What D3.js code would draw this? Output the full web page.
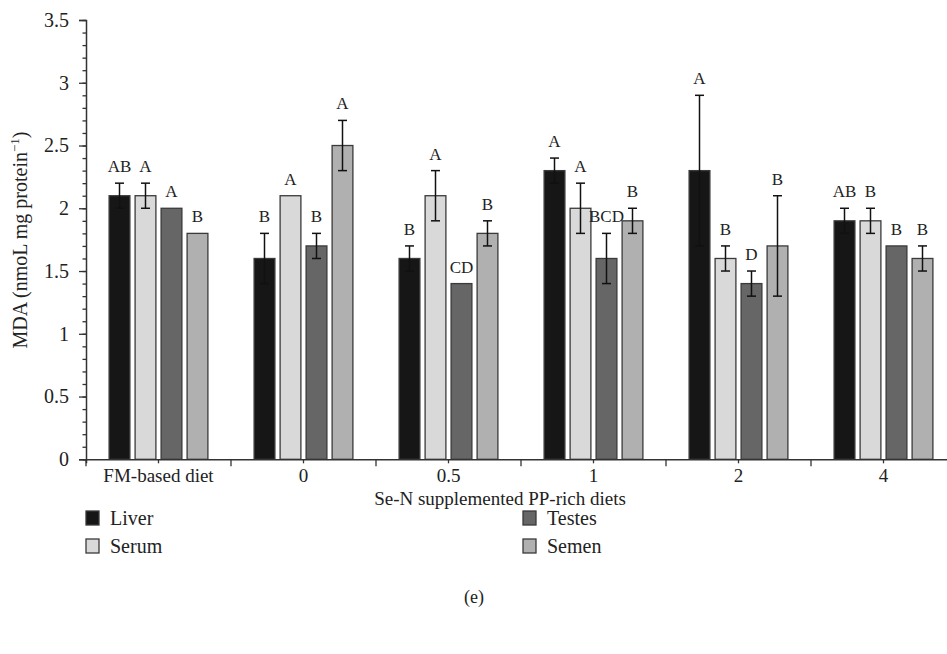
<!DOCTYPE html>
<html>
<head>
<meta charset="utf-8">
<script src="https://cdn.jsdelivr.net/npm/d3@7"></script>
<style>
    body { margin: 0; background: #fff; }
    svg text { font-family: "Liberation Serif", "DejaVu Serif", serif; fill: #222; }
</style>
</head>
<body>
<svg id="chart" width="947" height="654"></svg>
<script>
// Data
var categories = ["FM-based diet", "0", "0.5", "1", "2", "4"];
var series = ["Liver", "Serum", "Testes", "Semen"];

var liver = [2.1, 1.6, 1.6, 2.3, 2.3, 1.9];
var liverErr = [0.1, 0.2, 0.1, 0.1, 0.6, 0.1];
var liverLetters = ["AB", "B", "B", "A", "A", "AB"];

var serum = [2.1, 2.1, 2.1, 2.0, 1.6, 1.9];
var serumErr = [0.1, 0, 0.2, 0.2, 0.1, 0.1];
var serumLetters = ["A", "A", "A", "A", "B", "B"];

var testes = [2.0, 1.7, 1.4, 1.6, 1.4, 1.7];
var testesErr = [0, 0.1, 0, 0.2, 0.1, 0];
var testesLetters = ["A", "B", "CD", "BCD", "D", "B"];

var semen = [1.8, 2.5, 1.8, 1.9, 1.7, 1.6];
var semenErr = [0, 0.2, 0.1, 0.1, 0.4, 0.1];
var semenLetters = ["B", "A", "B", "B", "B", "B"];

var yMajor = [0, 0.5, 1, 1.5, 2, 2.5, 3, 3.5];

var values = { Liver: liver, Serum: serum, Testes: testes, Semen: semen };
var errors = { Liver: liverErr, Serum: serumErr, Testes: testesErr, Semen: semenErr };
var letters = { Liver: liverLetters, Serum: serumLetters, Testes: testesLetters, Semen: semenLetters };
var fills = { Liver: "#161616", Serum: "#d9d9d9", Testes: "#666666", Semen: "#b0b0b0" };

var svg = d3.select("#chart");

// plot box (window.top is reserved, hence the names)
var plotLeft = 86, plotRight = 956, plotTop = 20, plotBottom = 459.3;

var x = d3.scaleBand().domain(categories).range([plotLeft, plotRight]);
var y = d3.scaleLinear().domain([0, 3.5]).range([plotBottom, plotTop]);
var sub = d3.scaleBand().domain(series).range([-52, 52]).paddingInner(0.2).paddingOuter(0.1);

// flatten into one list of bars
var bars = [];
categories.forEach(function(c, i) {
    series.forEach(function(s) {
        bars.push({ cat: c, s: s, v: values[s][i], e: errors[s][i], l: letters[s][i] });
    });
});

function barX(d) { return x(d.cat) + x.bandwidth() / 2 + sub(d.s); }
function barMid(d) { return barX(d) + sub.bandwidth() / 2; }

var g = svg.append("g");

g.selectAll("rect.bar").data(bars).enter().append("rect")
    .attr("class", "bar")
    .attr("x", barX)
    .attr("y", function(d) { return y(d.v); })
    .attr("width", sub.bandwidth())
    .attr("height", function(d) { return y(0) - y(d.v); })
    .attr("fill", function(d) { return fills[d.s]; })
    .attr("stroke", "#3a3a3a")
    .attr("stroke-width", 1.3);

// error bars
var eb = g.selectAll("g.err").data(bars.filter(function(d) { return d.e > 0; })).enter().append("g")
    .attr("class", "err")
    .attr("stroke", "#111")
    .attr("stroke-width", 1.5);

eb.append("line")
    .attr("x1", barMid)
    .attr("x2", barMid)
    .attr("y1", function(d) { return y(d.v + d.e); })
    .attr("y2", function(d) { return y(d.v - d.e); });

[1, -1].forEach(function(sign) {
    eb.append("line")
        .attr("x1", function(d) { return barMid(d) - 4.5; })
        .attr("x2", function(d) { return barMid(d) + 4.5; })
        .attr("y1", function(d) { return y(d.v + sign * d.e); })
        .attr("y2", function(d) { return y(d.v + sign * d.e); });
});

// significance letters
g.selectAll("text.letter").data(bars).enter().append("text")
    .attr("class", "letter")
    .attr("x", barMid)
    .attr("y", function(d) { return y(d.v + d.e) - 11; })
    .attr("text-anchor", "middle")
    .attr("font-size", 17)
    .text(function(d) { return d.l; });

// y axis
var yAxis = svg.append("g")
    .attr("transform", "translate(" + plotLeft + ",0)")
    .call(d3.axisLeft(y).tickValues(yMajor).tickSize(7).tickPadding(10).tickFormat(d3.format("")));

var yMinor = svg.append("g")
    .attr("transform", "translate(" + plotLeft + ",0)")
    .call(d3.axisLeft(y).tickValues(d3.range(0, 36).map(function(i) { return i / 10; }))
        .tickSize(3.5).tickFormat(""));

// x axis
var xAxis = svg.append("g")
    .attr("transform", "translate(0," + plotBottom + ")")
    .call(d3.axisBottom(x).tickSize(4).tickPadding(5));

xAxis.selectAll(".bound").data(categories).enter().append("line")
    .attr("class", "bound")
    .attr("x1", function(d) { return x(d); })
    .attr("x2", function(d) { return x(d); })
    .attr("y1", 0)
    .attr("y2", 7);

[yAxis, yMinor, xAxis].forEach(function(a) {
    a.selectAll("path").attr("stroke", "#333").attr("stroke-width", 1.5);
    a.selectAll("line").attr("stroke", "#333").attr("stroke-width", 1.3);
    a.selectAll("text").attr("font-size", 20).attr("font-family", "Liberation Serif").attr("fill", "#222");
});
xAxis.selectAll("text").attr("font-size", 19);
yMinor.select("path").remove();

// axis titles
var yTitle = svg.append("text")
    .attr("transform", "translate(27,240) rotate(-90)")
    .attr("text-anchor", "middle")
    .attr("font-size", 20);
yTitle.append("tspan").text("MDA (nmoL mg protein");
yTitle.append("tspan").attr("font-size", 13).attr("dy", -8).text("\u22121");
yTitle.append("tspan").attr("dy", 8).text(")");

svg.append("text")
    .attr("x", 500)
    .attr("y", 505)
    .attr("text-anchor", "middle")
    .attr("font-size", 19)
    .text("Se-N supplemented PP-rich diets");

// legend, two columns
var legend = svg.selectAll("g.legend").data(series).enter().append("g")
    .attr("class", "legend")
    .attr("transform", function(d, i) {
        return "translate(" + (i < 2 ? 86 : 523) + "," + (511 + (i % 2) * 28) + ")";
    });

legend.append("rect")
    .attr("width", 13)
    .attr("height", 14)
    .attr("fill", function(d) { return fills[d]; })
    .attr("stroke", "#3a3a3a")
    .attr("stroke-width", 1.3);

legend.append("text")
    .attr("x", 24)
    .attr("y", 14)
    .attr("font-size", 20)
    .text(function(d) { return d; });

svg.append("text")
    .attr("x", 474)
    .attr("y", 603)
    .attr("text-anchor", "middle")
    .attr("font-size", 18)
    .text("(e)");
</script>
</body>
</html>
